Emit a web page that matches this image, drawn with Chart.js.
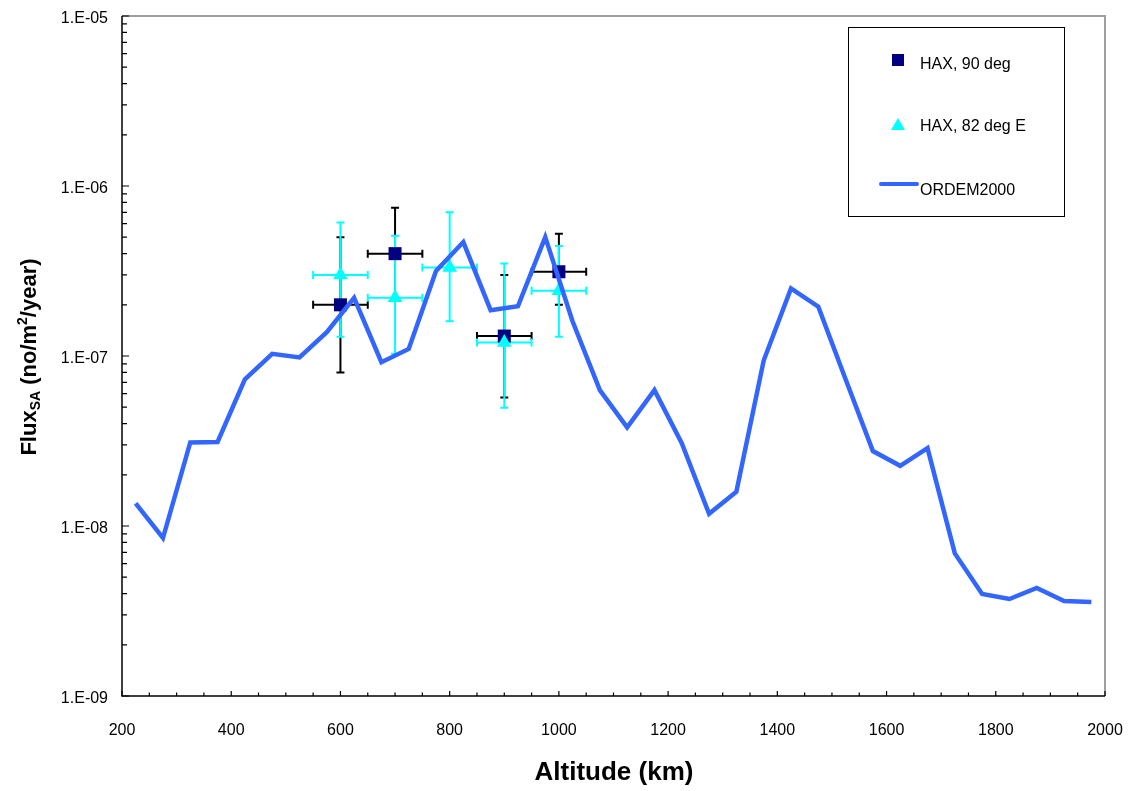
<!DOCTYPE html>
<html>
<head>
<meta charset="utf-8">
<script src="https://cdn.jsdelivr.net/npm/chart.js@4.4.1/dist/chart.umd.min.js"></script>
<style>
  html, body { margin: 0; padding: 0; background: #ffffff; }
  #wrap { width: 1132px; height: 791px; position: relative; }
</style>
</head>
<body>
<div id="wrap"><canvas id="c"></canvas></div>
<script>
// ---- data ----
const altitudes = [225,275,325,375,425,475,525,575,625,675,725,775,825,875,925,975,1025,1075,1125,1175,1225,1275,1325,1375,1425,1475,1525,1575,1625,1675,1725,1775,1825,1875,1925,1975];
const ordemFlux = [1.36e-8,8.5e-9,3.1e-8,3.12e-8,7.3e-8,1.03e-7,9.8e-8,1.38e-7,2.2e-7,9.2e-8,1.1e-7,3.16e-7,4.68e-7,1.86e-7,1.96e-7,5.0e-7,1.6e-7,6.3e-8,3.8e-8,6.3e-8,3.07e-8,1.18e-8,1.59e-8,9.4e-8,2.5e-7,1.95e-7,7.3e-8,2.76e-8,2.26e-8,2.87e-8,6.9e-9,3.98e-9,3.72e-9,4.32e-9,3.62e-9,3.57e-9];

const hax90Alt = [600,700,900,1000];
const hax90Flux = [2.0e-7,4.0e-7,1.31e-7,3.13e-7];
const hax90Lo = [8.0e-8,2.16e-7,5.7e-8,2.0e-7];
const hax90Hi = [5.0e-7,7.45e-7,3.0e-7,5.23e-7];
const hax90AltErr = [50,50,50,50];

const hax82Alt = [600,700,800,900,1000];
const hax82Flux = [3.0e-7,2.2e-7,3.32e-7,1.2e-7,2.42e-7];
const hax82Lo = [1.3e-7,1.03e-7,1.6e-7,4.96e-8,1.3e-7];
const hax82Hi = [6.1e-7,5.1e-7,7.0e-7,3.5e-7,4.44e-7];
const hax82AltErr = [50,50,50,50,50];

const seriesNames = ['HAX, 90 deg','HAX, 82 deg E','ORDEM2000'];
const yDecades = [1e-9,1e-8,1e-7,1e-6,1e-5];
const yTickLabels = ['1.E-09','1.E-08','1.E-07','1.E-06','1.E-05'];

const FONT = "'Liberation Sans', Arial, Helvetica, sans-serif";
const NAVY = '#000080', CYAN = '#00ffff', BLUE = '#3366ff';

const toXY = (xs, ys) => xs.map((x, i) => ({x: x, y: ys[i]}));

function drawVBars(ctx, xs, ys, alt, lo, hi, color) {
  ctx.save();
  ctx.strokeStyle = color;
  ctx.lineWidth = 2;
  const cap = 4;
  for (let i = 0; i < alt.length; i++) {
    const px = xs.getPixelForValue(alt[i]);
    const yl = ys.getPixelForValue(lo[i]);
    const yh = ys.getPixelForValue(hi[i]);
    ctx.beginPath();
    ctx.moveTo(px, yl); ctx.lineTo(px, yh);
    ctx.moveTo(px - cap, yl); ctx.lineTo(px + cap, yl);
    ctx.moveTo(px - cap, yh); ctx.lineTo(px + cap, yh);
    ctx.stroke();
  }
  ctx.restore();
}
function drawHBars(ctx, xs, ys, alt, ae, val, color) {
  ctx.save();
  ctx.strokeStyle = color;
  ctx.lineWidth = 2;
  const cap = 4;
  for (let i = 0; i < alt.length; i++) {
    const py = ys.getPixelForValue(val[i]);
    const xl = xs.getPixelForValue(alt[i] - ae[i]);
    const xr = xs.getPixelForValue(alt[i] + ae[i]);
    ctx.beginPath();
    ctx.moveTo(xl, py); ctx.lineTo(xr, py);
    ctx.moveTo(xl, py - cap); ctx.lineTo(xl, py + cap);
    ctx.moveTo(xr, py - cap); ctx.lineTo(xr, py + cap);
    ctx.stroke();
  }
  ctx.restore();
}

const errorBarPlugin = {
  id: 'errorBars',
  beforeDatasetsDraw(chart) {
    const ctx = chart.ctx, xs = chart.scales.x, ys = chart.scales.y;
    drawVBars(ctx, xs, ys, hax90Alt, hax90Lo, hax90Hi, '#000000');
    drawHBars(ctx, xs, ys, hax90Alt, hax90AltErr, hax90Flux, '#000000');
    drawVBars(ctx, xs, ys, hax82Alt, hax82Lo, hax82Hi, CYAN);
    drawHBars(ctx, xs, ys, hax82Alt, hax82AltErr, hax82Flux, CYAN);
  }
};

const framePlugin = {
  id: 'frame',
  afterDraw(chart) {
    const ctx = chart.ctx, a = chart.chartArea, xs = chart.scales.x, ys = chart.scales.y;
    ctx.save();
    ctx.strokeStyle = '#a0a0a0';
    ctx.lineWidth = 2;
    ctx.beginPath();
    ctx.moveTo(a.left, a.top); ctx.lineTo(a.right, a.top); ctx.lineTo(a.right, a.bottom);
    ctx.stroke();
    ctx.strokeStyle = '#000000';
    ctx.lineWidth = 1.5;
    ctx.beginPath();
    ctx.moveTo(a.left, a.top); ctx.lineTo(a.left, a.bottom); ctx.lineTo(a.right, a.bottom);
    ctx.stroke();
    ctx.lineWidth = 1.2;
    ctx.beginPath();
    for (let d = 0; d < yDecades.length; d++) {
      for (let m = 1; m <= 9; m++) {
        const v = yDecades[d] * m;
        if (v > 1e-5 * 1.0001) break;
        const py = ys.getPixelForValue(v);
        const len = m === 1 ? 7 : 5;
        ctx.moveTo(a.left, py); ctx.lineTo(a.left + len, py);
      }
    }
    for (let v = 200; v <= 2000; v += 50) {
      const px = xs.getPixelForValue(v);
      const len = v % 200 === 0 ? 5 : 3.5;
      ctx.moveTo(px, a.bottom); ctx.lineTo(px, a.bottom - len);
    }
    ctx.stroke();

    ctx.fillStyle = '#000';
    ctx.font = 'bold 26px ' + FONT;
    ctx.textAlign = 'center';
    ctx.textBaseline = 'alphabetic';
    ctx.fillText('Altitude (km)', 614, 780);

    const parts = [
      {t: 'Flux', f: 'bold 22px ' + FONT, dy: 0},
      {t: 'SA', f: 'bold 14px ' + FONT, dy: 4},
      {t: ' (no/m', f: 'bold 22px ' + FONT, dy: 0},
      {t: '2', f: 'bold 14px ' + FONT, dy: -9},
      {t: '/year)', f: 'bold 22px ' + FONT, dy: 0}
    ];
    let total = 0;
    parts.forEach(p => { ctx.font = p.f; p.w = ctx.measureText(p.t).width; total += p.w; });
    ctx.save();
    ctx.translate(36, 357);
    ctx.rotate(-Math.PI / 2);
    ctx.textAlign = 'left';
    let cx = -total / 2;
    parts.forEach(p => { ctx.font = p.f; ctx.fillText(p.t, cx, p.dy); cx += p.w; });
    ctx.restore();

    ctx.strokeStyle = '#000';
    ctx.lineWidth = 1;
    ctx.strokeRect(848.5, 27.5, 216, 189);
    ctx.fillStyle = NAVY;
    ctx.fillRect(892, 54, 12, 12);
    ctx.fillStyle = CYAN;
    ctx.beginPath();
    ctx.moveTo(898, 118); ctx.lineTo(905, 130); ctx.lineTo(891, 130); ctx.closePath();
    ctx.fill();
    ctx.strokeStyle = BLUE;
    ctx.lineWidth = 4;
    ctx.lineCap = 'round';
    ctx.beginPath();
    ctx.moveTo(881, 184); ctx.lineTo(917, 184);
    ctx.stroke();
    ctx.fillStyle = '#000';
    ctx.font = '16px ' + FONT;
    ctx.textAlign = 'left';
    ctx.textBaseline = 'middle';
    ctx.fillText(seriesNames[0], 920, 65);
    ctx.fillText(seriesNames[1], 920, 127);
    ctx.fillText(seriesNames[2], 920, 191);
    ctx.restore();
  }
};

new Chart(document.getElementById('c'), {
  type: 'scatter',
  data: {
    datasets: [
      {
        label: seriesNames[2],
        data: toXY(altitudes, ordemFlux),
        showLine: true,
        borderColor: BLUE,
        borderWidth: 4.5,
        pointRadius: 0,
        fill: false,
        tension: 0,
        order: 0
      },
      {
        label: seriesNames[1],
        data: toXY(hax82Alt, hax82Flux),
        pointStyle: 'triangle',
        pointRadius: 8.5,
        backgroundColor: CYAN,
        borderColor: CYAN,
        borderWidth: 0,
        order: 1
      },
      {
        label: seriesNames[0],
        data: toXY(hax90Alt, hax90Flux),
        pointStyle: 'rect',
        pointRadius: 9.2,
        backgroundColor: NAVY,
        borderColor: NAVY,
        borderWidth: 0,
        order: 2
      }
    ]
  },
  options: {
    responsive: true,
    maintainAspectRatio: false,
    animation: false,
    layout: { padding: { top: 16, right: 27, left: 0, bottom: 0 } },
    plugins: { legend: { display: false }, tooltip: { enabled: false } },
    scales: {
      x: {
        type: 'linear',
        min: 200, max: 2000,
        grid: { display: false, drawTicks: false },
        border: { display: false },
        ticks: {
          stepSize: 200,
          padding: 25,
          color: '#000',
          font: { family: FONT, size: 16 },
          maxRotation: 0,
          callback: v => String(v)
        },
        afterFit: s => { s.height = 95; s.paddingLeft = 0; s.paddingRight = 0; }
      },
      y: {
        type: 'logarithmic',
        min: 1e-9, max: 1e-5,
        grid: { display: false, drawTicks: false },
        border: { display: false },
        afterBuildTicks: s => { s.ticks = yDecades.map(v => ({value: v})); },
        ticks: {
          padding: 14,
          labelOffset: 3,
          color: '#000',
          font: { family: FONT, size: 16 },
          callback: (v) => {
            const i = yDecades.findIndex(d => Math.abs(Math.log10(d) - Math.log10(v)) < 1e-6);
            return i >= 0 ? yTickLabels[i] : '';
          }
        },
        afterFit: s => { s.width = 122; s.paddingTop = 0; s.paddingBottom = 0; }
      }
    }
  },
  plugins: [errorBarPlugin, framePlugin]
});
</script>
</body>
</html>
